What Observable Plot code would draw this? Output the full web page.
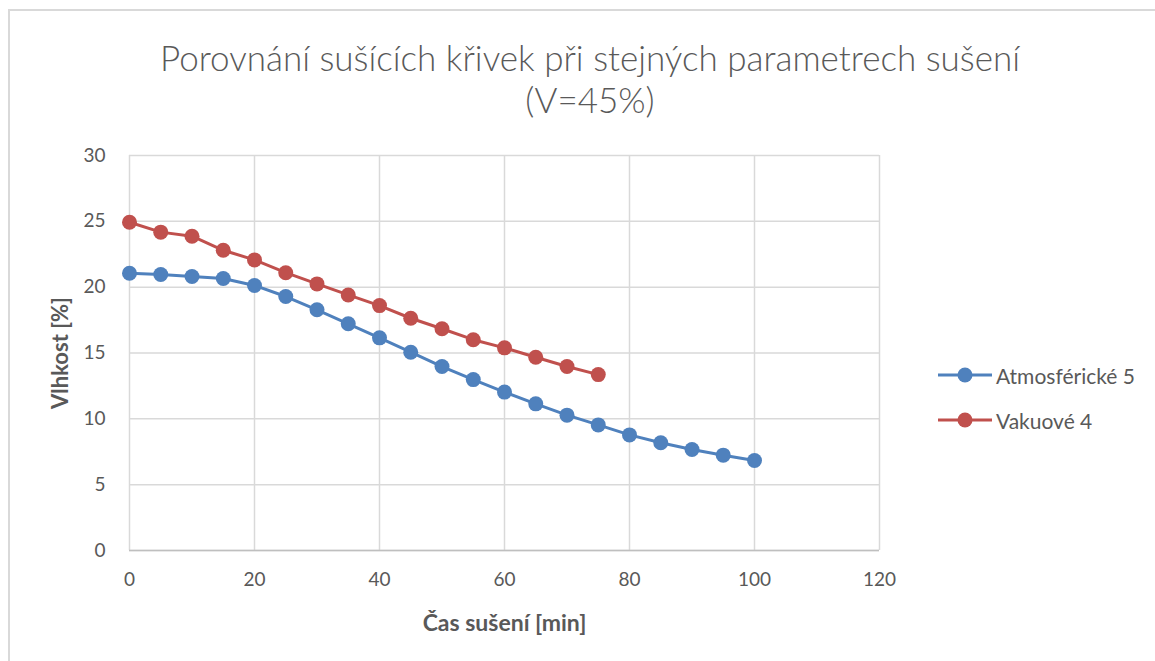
<!DOCTYPE html>
<html>
<head>
<meta charset="utf-8">
<script src="https://cdn.jsdelivr.net/npm/d3@7"></script>
<script src="https://cdn.jsdelivr.net/npm/@observablehq/plot@0.6"></script>
<style>
  html, body { margin: 0; padding: 0; background: #fff; }
  #chart {
    position: relative; width: 1155px; height: 661px; overflow: hidden;
    font-family: Lato, "Open Sans", sans-serif; color: #595959;
  }
  #frame {
    position: absolute; left: 8px; top: 9px; width: 1200px; height: 700px;
    border-left: 2px solid #d9d9d9; border-top: 2px solid #d9d9d9; box-sizing: border-box;
  }
  #title {
    position: absolute; left: 0; top: 36px; width: 1180px; text-align: center;
    font-size: 35px; font-weight: 300; line-height: 42px; color: #595959;
  }
  #plot { position: absolute; left: 0; top: 135px; }
  #legend { position: absolute; left: 937px; top: 360px; font-size: 21px; color: #595959; }
  #legend .item { display: flex; align-items: center; height: 30px; margin-bottom: 15px; }
  #legend svg { margin-right: 3px; }
</style>
</head>
<body>
<div id="chart">
  <div id="frame"></div>
  <div id="title">Porovnání sušících křivek při stejných parametrech sušení<br>(V=45%)</div>
  <div id="plot"></div>
  <div id="legend"></div>
</div>
<script>
// Drying time [min]
const casAtm = [0, 5, 10, 15, 20, 25, 30, 35, 40, 45, 50, 55, 60, 65, 70, 75, 80, 85, 90, 95, 100];
const casVak = [0, 5, 10, 15, 20, 25, 30, 35, 40, 45, 50, 55, 60, 65, 70, 75];

// Moisture [%]
const vlhkostAtm = [21.06, 20.96, 20.81, 20.66, 20.13, 19.29, 18.28, 17.22, 16.15, 15.06, 13.97, 12.98, 12.03, 11.14, 10.28, 9.54, 8.78, 8.18, 7.67, 7.24, 6.84];
const vlhkostVak = [24.93, 24.18, 23.87, 22.8, 22.07, 21.1, 20.25, 19.41, 18.6, 17.64, 16.84, 16.01, 15.39, 14.68, 13.97, 13.36];

const seriesNames = ["Atmosférické 5", "Vakuové 4"];
const seriesColors = ["#4f81bd", "#c0504d"];
const xTicks = [0, 20, 40, 60, 80, 100, 120];
const yTicks = [0, 5, 10, 15, 20, 25, 30];
const xTitle = "Čas sušení [min]";
const yTitle = "Vlhkost [%]";

const rows = [
  ...casAtm.map((t, i) => ({serie: seriesNames[0], t, v: vlhkostAtm[i]})),
  ...casVak.map((t, i) => ({serie: seriesNames[1], t, v: vlhkostVak[i]}))
];

const chart = Plot.plot({
  width: 900,
  height: 526,
  marginLeft: 129,
  marginRight: 21,
  marginTop: 20,
  marginBottom: 111,
  style: {fontFamily: "Lato, 'Open Sans', sans-serif", fontSize: "19px", color: "#595959", background: "transparent"},
  x: {domain: [0, 120]},
  y: {domain: [0, 30]},
  color: {domain: seriesNames, range: seriesColors},
  marks: [
    Plot.gridX(xTicks, {stroke: "#d9d9d9", strokeOpacity: 1, strokeWidth: 1.5}),
    Plot.gridY(yTicks, {stroke: "#d9d9d9", strokeOpacity: 1, strokeWidth: 1.5}),
    Plot.ruleY([0], {stroke: "#bfbfbf", strokeWidth: 1.5}),
    Plot.axisX(xTicks, {tickSize: 0, tickPadding: 22, fill: "#595959", fontSize: 19,
      label: xTitle, labelAnchor: "center", labelOffset: 80, labelArrow: "none"}),
    Plot.axisY(yTicks, {tickSize: 0, tickPadding: 24, fill: "#595959", fontSize: 19,
      label: yTitle, labelAnchor: "center", labelOffset: 77, labelArrow: "none"}),
    Plot.line(rows, {x: "t", y: "v", z: "serie", stroke: "serie", strokeWidth: 3}),
    Plot.dot(rows, {x: "t", y: "v", fill: "serie", r: 7.5, stroke: null})
  ]
});

// Bold axis titles without direction arrows
[["x-axis label", xTitle, 23], ["y-axis label", yTitle, 22]].forEach(([aria, txt, size]) => {
  chart.querySelectorAll(`[aria-label="${aria}"] text`).forEach(t => {
    t.textContent = txt;
    t.setAttribute("font-weight", "bold");
    t.setAttribute("font-size", size);
    t.setAttribute("fill", "#595959");
  });
});
document.getElementById("plot").appendChild(chart);

// Legend
const legend = d3.select("#legend");
seriesNames.forEach((name, i) => {
  const item = legend.append("div").attr("class", "item");
  const s = item.append("svg").attr("width", 56).attr("height", 20);
  s.append("line").attr("x1", 1).attr("x2", 55).attr("y1", 10).attr("y2", 10)
    .attr("stroke", seriesColors[i]).attr("stroke-width", 3);
  s.append("circle").attr("cx", 28).attr("cy", 10).attr("r", 7.5).attr("fill", seriesColors[i]);
  item.append("span").text(name);
});
</script>
</body>
</html>
